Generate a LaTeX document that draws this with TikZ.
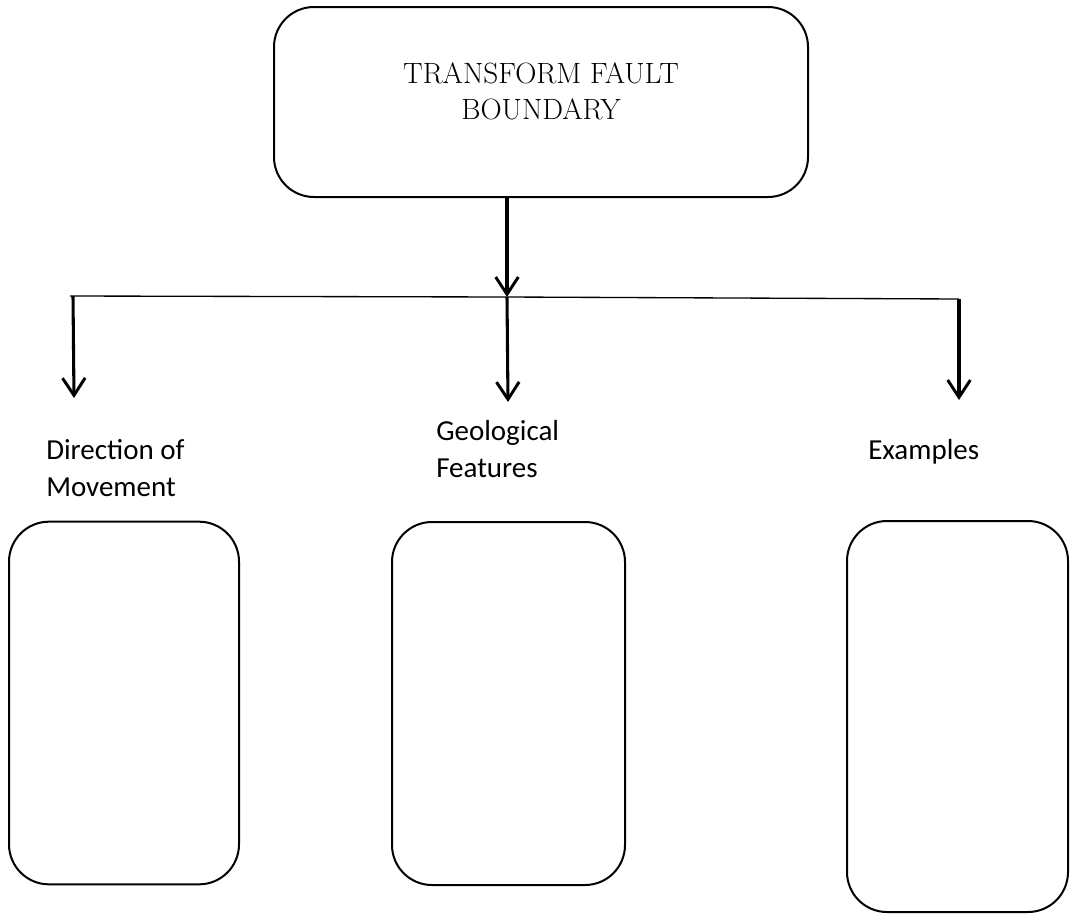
\documentclass[tikz,border=0pt]{standalone}
\usepackage{fontspec}
\newfontfamily\lab{Carlito}
\usetikzlibrary{arrows.meta}
\begin{document}
\begin{tikzpicture}[x=0.75pt,y=-0.75pt,
  rbox/.style={draw, line width=1.5pt, rounded corners=30pt, inner sep=0pt},
  arr/.style={line width=2.3pt, -{Straight Barb[length=13pt,width=17pt,line width=2.2pt]}},
  hline/.style={line width=1pt},
  labtext/.style={font=\lab\fontsize{21.75}{27.75}\selectfont, align=left, inner sep=0pt},
  title/.style={font=\fontsize{22}{27}\selectfont, align=center, inner sep=0pt}]
\path[use as bounding box] (0,0) rectangle (1070,914);
% top box
\node[rbox, minimum width=400.5pt, minimum height=142.5pt] (top) at (541,102) {};
\node[title] (ttl) at (541,91) {TRANSFORM FAULT\\BOUNDARY};
% junction line
\coordinate (l) at (70,296);
\coordinate (j) at (507,297);
\coordinate (r) at (959,299);
\draw[hline] (l) -- (j) -- (r);
\draw[arr] (507,197) -- (j);
% branch arrows
\coordinate (la) at (74,398);
\coordinate (ma) at (508,402);
\coordinate (ra) at (959,400);
\draw[arr] (l) ++(3,0) -- (la);
\draw[arr] (j) -- (ma);
\draw[arr] (r) -- (ra);
% labels
\node[labtext, anchor=west] (dir) at (46,468) {Direction of\\Movement};
\node[labtext, anchor=west] (geo) at (436,449) {Geological\\Features};
\node[labtext, anchor=base west] (ex) at (868,459) {Examples};
% lower boxes
\node[rbox, minimum width=172.5pt, minimum height=272pt] (b1) at (124,703) {};
\node[rbox, minimum width=174.75pt, minimum height=272.25pt] (b2) at (508.5,703.5) {};
\node[rbox, minimum width=165.75pt, minimum height=293.25pt] (b3) at (957.5,716.5) {};
\end{tikzpicture}
\end{document}
